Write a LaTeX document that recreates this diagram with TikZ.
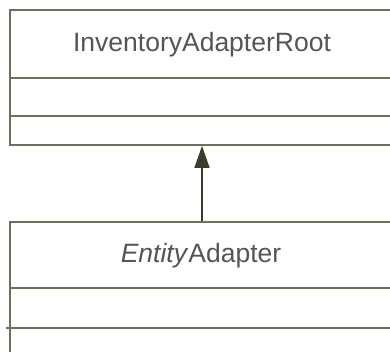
\documentclass[tikz,border=0pt]{standalone}
\usepackage{fontspec}
\setmainfont{Liberation Sans}
\usetikzlibrary{arrows.meta}
\definecolor{edge}{HTML}{6E6E5E}
\definecolor{arrowc}{HTML}{3C3C2C}
\definecolor{txt}{HTML}{555555}
\begin{document}
\begin{tikzpicture}[x=1pt,y=1pt,
  classbox/.style={draw=edge, line width=1.7pt, rectangle, minimum width=400pt, inner sep=0pt, fill=white},
  divider/.style={draw=edge, line width=1.7pt},
  classname/.style={text=txt, font=\fontsize{26.5}{31}\selectfont, inner sep=0pt},
  generalization/.style={draw=arrowc, line width=1.3pt, -{Triangle[length=22pt,width=15pt]}}
]
\useasboundingbox (0,0) rectangle (390,352);
% top class box: x 10..410, y 207..342
\node[classbox, minimum height=135pt] (topbox) at (210,274.5) {};
\node[classname] (topname) at (202,307.5) {InventoryAdapterRoot};
\coordinate (t1l) at (10,274);
\coordinate (t1r) at (400,274);
\coordinate (t2l) at (10,236);
\coordinate (t2r) at (400,236);
\draw[divider] (t1l) -- (t1r);
\draw[divider] (t2l) -- (t2r);
% bottom class box: x 10..410, y -10..130
\node[classbox, minimum height=140pt] (botbox) at (210,60) {};
\node[classname] (botname) at (201,96) {\textit{Entity}Adapter};
\coordinate (b1l) at (10,64);
\coordinate (b1r) at (400,64);
\coordinate (b2l) at (6,24);
\coordinate (b2r) at (400,24);
\draw[divider] (b1l) -- (b1r);
\draw[divider] (b2l) -- (b2r);
% generalization
\coordinate (ax) at (202,0);
\draw[generalization] (botbox.north -| ax) -- (topbox.south -| ax);
\end{tikzpicture}
\end{document}
